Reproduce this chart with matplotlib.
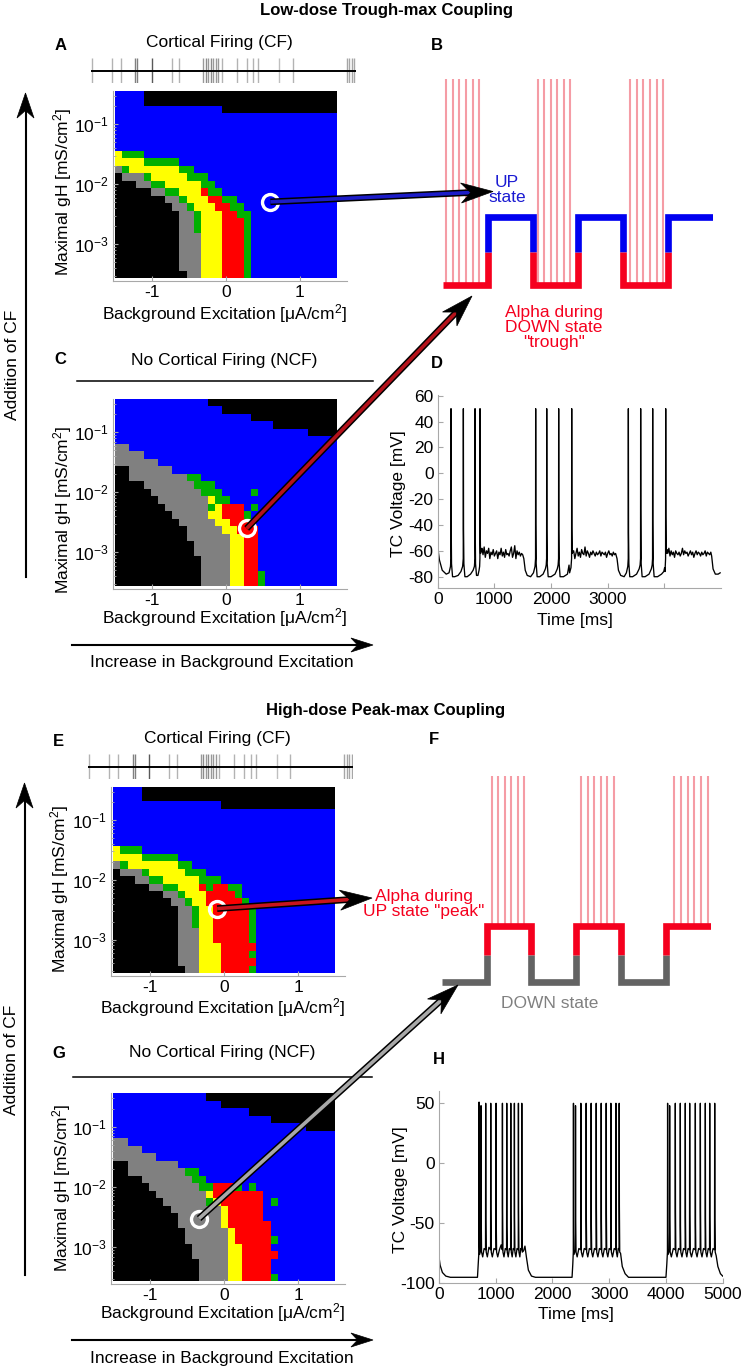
import re
import numpy as np
import matplotlib
matplotlib.use("Agg")
import matplotlib.pyplot as plt
import matplotlib.patheffects as pe
from matplotlib.colors import ListedColormap
from matplotlib.patches import Polygon
from matplotlib.ticker import LogLocator, NullFormatter

plt.rcParams['font.family'] = ['Liberation Sans', 'DejaVu Sans']
plt.rcParams['mathtext.fontset'] = 'custom'
plt.rcParams['mathtext.rm'] = 'Liberation Sans'
plt.rcParams['mathtext.it'] = 'Liberation Sans:italic'
plt.rcParams['mathtext.bf'] = 'Liberation Sans:bold'
plt.rcParams['axes.unicode_minus'] = False

W, H = 745, 1371
FS = 12.5

###########################################
# Parameter grid of the state maps
be_edges = np.linspace(-1.5, 1.5, 32)            # background excitation [uA/cm2]
gh_log_edges = np.linspace(-0.4375, -3.5625, 26)  # log10 maximal gH [mS/cm2], top row first

# K black, G gray, N green, Y yellow, R red, B blue (run-length coded rows, top to bottom)
state_letters = 'KGNYRB'
state_colors = ['#000000', '#808080', '#00b000', '#ffff00', '#ff0000', '#0000ff']

map_A = ['B4K27', 'B4K27', 'B15K16', 'B31', 'B31', 'B31', 'B31', 'B31',
         'Y1N3B27', 'Y4N5B22', 'G1N1Y7N2B20', 'K1G3N1Y5N3B18', 'K3G2N2Y5N2B17',
         'K5G2N2Y3R1N2B16', 'K7G2N1Y3R2N2B14', 'K8G2N1Y3R2N2B13', 'K9G2N1Y3R2N2B12',
         'K9G2N1Y3R3N1B12', 'K9G2N1Y3R3N1B12', 'K9G3Y3R3N1B12', 'K9G3Y3R3N1B12',
         'K9G3Y3R3N1B12', 'K9G3Y3R3N1B12', 'K9G3Y3R3N1B12', 'K10G2Y3R3N1B12']
map_C = ['B13K18', 'B15K16', 'B19K12', 'B22K9', 'B27K4', 'B31',
         'G2B29', 'G4B27', 'G6B25', 'K2G6B23',
         'K2G8N2B19', 'K4G7N3B17', 'K5G7N3B4N1B11', 'K6G7Y1N2B15',
         'K7G6N1Y1R3B1N1B11', 'K8G5Y2R3N1B12', 'K9G5Y2R3B12', 'K10G5Y2R3B11',
         'K10G6Y2R2B11', 'K11G5Y2R2B11', 'K11G5Y2R2B11', 'K12G4Y2R2B11',
         'K12G4Y2R2B11', 'K12G4Y2R2N1B10', 'K12G4Y2R2N1B10']
map_E = ['B4K27', 'B4K27', 'B15K16', 'B31', 'B31', 'B31', 'B31', 'B31',
         'Y1N3B27', 'Y4N5B22', 'G1N1Y7N2B20', 'K1G3N1Y5N3B18',
         'K3G2N2Y5N3B16', 'K5G2N2Y3R1N1R2N2B13', 'K7G2N1Y3R4N1B13',
         'K8G2N1Y2R5N1B12', 'K9G2N1Y2R5N1B11', 'K9G2N1Y2R5N1B11', 'K9G2N1Y2R5N1B11',
         'K9G3Y2R5N1B11', 'K9G3Y2R5N1B11', 'K9G3Y3R5B11', 'K9G3Y3R4N1B11',
         'K9G3Y3R5B11', 'K10G2Y3R4N1B11']
map_G = ['B13K18', 'B15K16', 'B19K12', 'B22K9', 'B27K4', 'B31',
         'G2B29', 'G4B27', 'G6B25', 'K2G7B22',
         'K2G8N2B19', 'K4G7N2B18', 'K5G7N2R3N1B1N1B11', 'K6G7Y1R7B10',
         'K7G6N1Y1R6B1N1B8', 'K8G7Y1R5B10', 'K9G6Y1R5B10', 'K9G6Y1R6B9',
         'K10G6Y1R5B9', 'K10G6Y1R5N1B8', 'K11G5Y2R4B9', 'K11G5Y2R5B8',
         'K12G4Y2R4B9', 'K12G4Y2R4B9', 'K12G4Y2R4N1B8']

# marked operating points (background excitation, gH)
point_A = (0.60, 5.1e-3)
point_C = (0.28, 2.5e-3)
point_E = (-0.095, 3.3e-3)
point_G = (-0.34, 3.0e-3)

# cortical spike train [ms]
cf_spike_t = [19, 396, 565, 835, 879, 1150, 1526, 1665, 2123, 2167, 2217, 2261, 2312,
              2362, 2406, 2469, 2751, 2940, 3065, 3160, 3555, 3807, 4824, 4874, 4918, 4969]
cf_spike_gray = [0.7, 0.7, 0.7, 0.5, 0.5, 0.35, 0.7, 0.7, 0.6, 0.55, 0.6, 0.55, 0.6,
                 0.6, 0.6, 0.7, 0.7, 0.7, 0.7, 0.7, 0.75, 0.7, 0.65, 0.65, 0.65, 0.65]

# schematic up/down sequence and alpha bursts
schem_edges = [0, 1, 2, 3, 4, 5, 6]
schem_B_states = ['down', 'up', 'down', 'up', 'down', 'up']
schem_F_states = ['down', 'up', 'down', 'up', 'down', 'up']
alpha_B_x = [0.07, 0.22, 0.36, 0.51, 0.66, 0.81, 2.10, 2.25, 2.39, 2.54, 2.69, 2.83,
             4.15, 4.30, 4.45, 4.59, 4.74, 4.89]
alpha_F_x = [1.12, 1.26, 1.41, 1.55, 1.70, 1.84, 3.11, 3.26, 3.41, 3.55, 3.70, 3.85,
             5.19, 5.34, 5.49, 5.64, 5.79, 5.94]

# TC voltage, low-dose trough-max coupling (t [ms], V [mV])
D_points = [(0, -57), (30, -67), (80, -75), (150, -78), (200, -77), (226, -72),
            (233, -66), (235, 50), (238, -39), (244, -70), (262, -80), (300, -80), (360, -79), (410, -76), (440, -72),
            (451, -66), (453, 50), (456, -43), (462, -70), (480, -80), (520, -80), (580, -78), (625, -75), (648, -72),
            (657, -66), (659, 50), (662, -43), (668, -70), (685, -79), (710, -79), (730, -75), (740, -72),
            (745, -66), (747, 50), (750, -43), (756, -62), (770, -60),
            (1520, -66), (1545, -75), (1580, -79), (1640, -80), (1690, -77), (1718, -72),
            (1727, -66), (1729, 50), (1732, -39), (1738, -70), (1755, -80), (1800, -80), (1860, -78), (1900, -74), (1915, -71),
            (1922, -66), (1924, 50), (1927, -43), (1933, -70), (1950, -80), (2000, -80), (2070, -78), (2110, -74), (2125, -71),
            (2133, -66), (2135, 50), (2138, -44), (2144, -70), (2160, -80), (2220, -80), (2290, -78), (2318, -71), (2328, -77), (2352, -73),
            (2363, -66), (2365, 50), (2368, -42), (2374, -62), (2390, -60),
            (3165, -66), (3190, -75), (3230, -79), (3290, -80), (3330, -77), (3355, -72),
            (3363, -66), (3365, 50), (3368, -46), (3374, -70), (3390, -80), (3440, -80), (3510, -78), (3555, -74), (3572, -71),
            (3580, -66), (3582, 50), (3585, -28), (3591, -70), (3608, -80), (3660, -80), (3730, -78), (3770, -74), (3785, -71),
            (3792, -66), (3794, 50), (3797, -37), (3803, -70), (3820, -80), (3880, -80), (3950, -78), (3990, -76), (4005, -73), (4012, -76),
            (4022, -66), (4024, 50), (4027, -33), (4033, -62), (4050, -59),
            (4835, -64), (4860, -74), (4900, -78), (4950, -78), (4985, -77)]
# UP-state fluctuations, sampled every 20 ms from the given start time
D_up_states = [
    (780, [-58, -63, -57, -65, -60, -62, -58, -66, -61, -63, -59, -64, -62, -60, -66, -61, -63, -58, -64,
           -61, -65, -59, -63, -62, -64, -60, -57, -65, -62, -56, -66, -60, -63, -61, -64, -62, -63]),
    (2400, [-60, -66, -62, -58, -64, -61, -65, -59, -62, -63, -57, -64, -60, -62, -65, -61, -63, -60, -62,
            -64, -61, -63, -62, -60, -64, -61, -62, -63, -61, -65, -62, -60, -63, -62, -64, -61, -63, -62]),
    (4060, [-62, -58, -64, -60, -63, -61, -65, -60, -62, -63, -61, -64, -62, -58, -63, -60, -62, -61, -64, -62,
            -60, -63, -61, -65, -62, -60, -63, -61, -62, -64, -61, -63, -62, -60, -64, -61, -62, -63, -61]),
]

# TC voltage, high-dose peak-max coupling (t [ms], V [mV])
H_points = [(0, -78), (20, -85), (60, -91), (120, -94), (200, -95), (678, -95), (692, -84),
            (703, -74), (706, 51), (709, -60), (715, -76),
            (738, -72), (741, 48), (744, -45), (750, -74), (770, -78), (795, -71),
            (820, -72), (823, 50), (826, -48), (832, -74), (852, -78), (880, -70),
            (909, -72), (912, 50), (915, -36), (921, -74), (940, -78), (970, -71),
            (1003, -72), (1006, 50), (1009, -50), (1015, -74), (1035, -78), (1065, -72), (1095, -68),
            (1115, -72), (1118, 50), (1121, -37), (1127, -74), (1145, -78), (1168, -71),
            (1191, -72), (1194, 50), (1197, -52), (1203, -74), (1220, -78), (1240, -71),
            (1262, -72), (1265, 50), (1268, -42), (1274, -74), (1290, -78), (1308, -71),
            (1326, -72), (1329, 50), (1332, -45), (1338, -74), (1355, -78), (1375, -71),
            (1397, -72), (1400, 50), (1403, -40), (1409, -74), (1425, -78), (1440, -71),
            (1456, -72), (1459, 50), (1462, -33), (1468, -74), (1490, -73), (1515, -69),
            (1540, -78), (1575, -89), (1630, -94), (1700, -95), (2345, -95), (2358, -84),
            (2367, -74), (2370, 50), (2373, -58), (2379, -76),
            (2403, -72), (2406, 48), (2409, -48), (2415, -74), (2435, -78), (2465, -71),
            (2497, -72), (2500, 50), (2503, -33), (2509, -74), (2530, -78), (2560, -71),
            (2591, -72), (2594, 50), (2597, -47), (2603, -74), (2622, -78), (2650, -71),
            (2679, -72), (2682, 50), (2685, -52), (2691, -74), (2710, -78), (2740, -71),
            (2768, -72), (2771, 50), (2774, -37), (2780, -74), (2800, -78), (2828, -71),
            (2856, -72), (2859, 50), (2862, -48), (2868, -74), (2888, -78), (2915, -71),
            (2944, -72), (2947, 50), (2950, -42), (2956, -74), (2975, -78), (3000, -71),
            (3026, -72), (3029, 50), (3032, -45), (3038, -74), (3058, -78), (3088, -71),
            (3115, -72), (3118, 50), (3121, -40), (3127, -74), (3142, -78), (3160, -71),
            (3173, -72), (3176, 50), (3179, -35), (3185, -74), (3200, -75), (3230, -86),
            (3280, -92), (3340, -95), (4000, -95), (4015, -84),
            (4026, -74), (4029, 50), (4032, -58), (4038, -76),
            (4062, -72), (4065, 48), (4068, -46), (4074, -74), (4095, -78), (4130, -71),
            (4162, -72), (4165, 50), (4168, -40), (4174, -74), (4195, -78), (4222, -71),
            (4250, -72), (4253, 50), (4256, -52), (4262, -74), (4282, -78), (4310, -71),
            (4338, -72), (4341, 50), (4344, -45), (4350, -74), (4368, -78), (4390, -71),
            (4415, -72), (4418, 50), (4421, -42), (4427, -74), (4450, -78), (4485, -71),
            (4515, -72), (4518, 50), (4521, -50), (4527, -74), (4548, -78), (4575, -71),
            (4603, -72), (4606, 50), (4609, -38), (4615, -74), (4635, -78), (4662, -71),
            (4691, -72), (4694, 50), (4697, -46), (4703, -74), (4722, -78), (4745, -71),
            (4768, -72), (4771, 50), (4774, -44), (4780, -74), (4800, -78), (4830, -71),
            (4856, -72), (4859, 50), (4862, -47), (4868, -74), (4885, -77), (4915, -86),
            (4960, -92), (5000, -94)]

RED = '#f5001e'
BLUE = '#0000f0'
PINK = '#f59ca5'
SPINE = '#a8a8a8'


###########################################
def decode(row):
    cells = []
    for letter, n in re.findall(r'([KGNYRB])(\d+)', row):
        cells += [state_letters.index(letter)] * int(n)
    assert len(cells) == 31, row
    return cells


def build_trace(points, sampled=()):
    pts = list(points)
    for t0, vals in sampled:
        pts += [(t0 + 20 * k, v) for k, v in enumerate(vals)]
    pts.sort()
    t, v = zip(*pts)
    return np.array(t), np.array(v)


fig = plt.figure(figsize=(W / 100, H / 100), dpi=100)


def px_axes(left, top, right, bottom, **kw):
    return fig.add_axes([left / W, 1 - bottom / H, (right - left) / W, (bottom - top) / H], **kw)


def style_axes(ax):
    for s in ['top', 'right']:
        ax.spines[s].set_visible(False)
    for s in ['left', 'bottom']:
        ax.spines[s].set_color(SPINE)
        ax.spines[s].set_linewidth(0.8)
    ax.tick_params(which='both', direction='in', color=SPINE, labelsize=FS, pad=3)
    ax.tick_params(which='major', length=3.5)
    ax.tick_params(which='minor', length=1.8)


def place_labels(ax, xlabel, ylabel, xlab_xy, ylab_xy):
    ax.set_xlabel(xlabel, fontsize=FS)
    ax.set_ylabel(ylabel, fontsize=FS)
    ax.xaxis.label.set_va('center')
    ax.yaxis.label.set_va('center')
    ax.xaxis.set_label_coords(*xlab_xy)
    ax.yaxis.set_label_coords(*ylab_xy)


state_cmap = ListedColormap(state_colors)


def state_map(rows, box, point, xlab_xy, ylab_xy):
    ax = px_axes(*box)
    grid = np.array([decode(r) for r in rows])
    ax.pcolormesh(be_edges, 10.0 ** gh_log_edges, grid, cmap=state_cmap, vmin=-0.5, vmax=5.5)
    ax.set_yscale('log')
    ax.set_xlim(-1.53, 1.63)
    ax.set_ylim(10 ** -3.61, 10 ** -0.4375)
    ax.set_xticks([-1, 0, 1])
    ax.set_xticklabels(['-1', '0', '1'])
    ax.set_yticks([1e-3, 1e-2, 1e-1])
    ax.set_yticklabels([r'$10^{-3}$', r'$10^{-2}$', r'$10^{-1}$'])
    ax.yaxis.set_minor_locator(LogLocator(base=10, subs=np.arange(2, 10)))
    ax.yaxis.set_minor_formatter(NullFormatter())
    style_axes(ax)
    place_labels(ax, r'Background Excitation [μA/cm$^2$]', r'Maximal gH [mS/cm$^2$]', xlab_xy, ylab_xy)
    ax.plot(*point, marker='o', ms=11.5, mfc='none', mec='white', mew=2.4)
    return ax


def raster(box):
    ax = px_axes(*box)
    ax.set_xlim(0, 5000)
    ax.set_ylim(0, 1)
    ax.axis('off')
    ax.vlines(cf_spike_t, 0, 1, colors=[str(g) for g in cf_spike_gray], lw=1.0)
    ax.axhline(0.5, color='black', lw=1.4)
    return ax


def draw_schematic(box, states, up_color, down_color, mid, alpha_x, alpha_lo, alpha_hi, ylim):
    ax = px_axes(*box)
    ax.set_xlim(0, 6)
    ax.set_ylim(*ylim)
    ax.axis('off')
    level = {'down': 0.0, 'up': 1.0}
    ax.vlines(alpha_x, alpha_lo, alpha_hi, colors=PINK, lw=1.5, zorder=1)
    for i, s in enumerate(states):
        x0, x1 = schem_edges[i], schem_edges[i + 1]
        y = level[s]
        xs, ys = [], []
        if i > 0:
            xs.append(x0)
            ys.append(mid)
        xs += [x0, x1]
        ys += [y, y]
        if i < len(states) - 1:
            xs.append(x1)
            ys.append(mid)
        ax.plot(xs, ys, color=up_color if s == 'up' else down_color, lw=4.8,
                solid_capstyle='butt', solid_joinstyle='miter', zorder=2)
    return ax


def trace_axes(box, t, v, ylim, yticks, xticks, xticklabels, xlab_xy, ylab_xy):
    ax = px_axes(*box)
    ax.plot(t, v, color='black', lw=0.95)
    ax.set_xlim(0, 5000)
    ax.set_ylim(*ylim)
    ax.set_yticks(yticks)
    ax.set_yticklabels([str(y) for y in yticks])
    ax.set_xticks(xticks)
    ax.set_xticklabels(xticklabels)
    style_axes(ax)
    place_labels(ax, 'Time [ms]', 'TC Voltage [mV]', xlab_xy, ylab_xy)
    return ax


###########################################
# State maps
ax_A = state_map(map_A, (112.8, 90.55, 346.6, 280.9), point_A, (0.476, -0.169), (-0.217, 0.467))
ax_C = state_map(map_C, (112.8, 398.6, 346.6, 588.9), point_C, (0.476, -0.153), (-0.217, 0.415))
ax_E = state_map(map_E, (111.1, 786.5, 344.6, 976.0), point_E, (0.477, -0.169), (-0.219, 0.459))
ax_G = state_map(map_G, (111.1, 1093.0, 344.6, 1284.0), point_G, (0.477, -0.152), (-0.212, 0.503))

raster((90.7, 58.3, 356.0, 83.3))
raster((88.3, 754.0, 353.3, 779.3))

# Schematics of up/down states with alpha bursts
ax_B = draw_schematic((443, 68.4, 713.3, 305.3), schem_B_states, BLUE, RED, 0.49,
                      alpha_B_x, 0, 3.04, (-0.3, 3.2))
ax_F = draw_schematic((441.7, 764.5, 710.5, 998.4), schem_F_states, RED, '#636363', 0.48,
                      alpha_F_x, 1, 3.7, (-0.3, 3.9))

# Voltage traces
tD, vD = build_trace(D_points, D_up_states)
ax_D = trace_axes((437.7, 395.1, 721.0, 587.7), tD, vD, (-88.5, 60.5),
                  [-80, -60, -40, -20, 0, 20, 40, 60], [0, 1000, 2000, 3000, 4000],
                  ['0', '1000', '2000', '3000', ''], (0.483, -0.168), (-0.14, 0.486))
tH, vH = build_trace(H_points)
ax_H = trace_axes((439.0, 1091.3, 722.7, 1283.3), tH, vH, (-100, 60),
                  [-100, -50, 0, 50], [0, 1000, 2000, 3000, 4000, 5000],
                  ['0', '1000', '2000', '3000', '4000', '5000'], (0.481, -0.165), (-0.137, 0.486))

###########################################
# Overlay in pixel coordinates: texts, arrows, separators
ov = fig.add_axes([0, 0, 1, 1], zorder=10)
ov.set_xlim(0, W)
ov.set_ylim(H, 0)
ov.axis('off')


def to_px(ax, x, y):
    return ov.transData.inverted().transform(ax.transData.transform((x, y)))


def head(p0, p1, length, width):
    p0 = np.asarray(p0, float)
    p1 = np.asarray(p1, float)
    d = (p1 - p0) / np.hypot(*(p1 - p0))
    n = np.array([-d[1], d[0]])
    base = p1 - d * length
    notch = p1 - d * length * 0.7
    ov.add_patch(Polygon([p1, base + n * width / 2, notch, base - n * width / 2],
                         closed=True, fc='black', ec='black', lw=0.5, zorder=21))
    return notch


def fat_arrow(p0, p1, fill):
    notch = head(p0, p1, 32, 20)
    ov.plot([p0[0], notch[0]], [p0[1], notch[1]], color=fill, lw=2.6, solid_capstyle='butt',
            path_effects=[pe.Stroke(linewidth=4.8, foreground='black'), pe.Normal()], zorder=20)


def thin_arrow(p0, p1, length, width):
    notch = head(p0, p1, length, width)
    ov.plot([p0[0], notch[0]], [p0[1], notch[1]], color='black', lw=1.5, zorder=20)


fat_arrow(to_px(ax_A, *point_A), (493, 191.5), '#1c1cc8')
fat_arrow(to_px(ax_C, *point_C), (472, 296), '#b5121b')
fat_arrow(to_px(ax_E, *point_E), (372, 898), '#c8141e')
fat_arrow(to_px(ax_G, *point_G), (458, 985), '#a8a8a8')

# Addition of CF / Increase in background excitation
thin_arrow((25.5, 577), (25.5, 93), 25, 17)
thin_arrow((24.5, 1275), (24.5, 783), 25, 17)
thin_arrow((72, 645), (373, 645), 22, 14)
thin_arrow((72, 1340), (373, 1340), 22, 14)
ov.text(13, 365, 'Addition of CF', rotation=90, ha='center', va='center', fontsize=FS)
ov.text(12, 1060, 'Addition of CF', rotation=90, ha='center', va='center', fontsize=FS)
ov.text(222, 663, 'Increase in Background Excitation', ha='center', va='center', fontsize=FS)
ov.text(222, 1358, 'Increase in Background Excitation', ha='center', va='center', fontsize=FS)

# NCF separators
ov.plot([77, 373], [381, 381], color='black', lw=1.1)
ov.plot([73, 372], [1077, 1077], color='black', lw=1.1)

# Titles and panel texts
ov.text(386, 10, 'Low-dose Trough-max Coupling', ha='center', va='center', fontsize=12, fontweight='bold')
ov.text(386, 710, 'High-dose Peak-max Coupling', ha='center', va='center', fontsize=12, fontweight='bold')
ov.text(219, 43, 'Cortical Firing (CF)', ha='center', va='center', fontsize=FS)
ov.text(217.5, 738, 'Cortical Firing (CF)', ha='center', va='center', fontsize=FS)
ov.text(224, 360, 'No Cortical Firing (NCF)', ha='center', va='center', fontsize=FS)
ov.text(222, 1053, 'No Cortical Firing (NCF)', ha='center', va='center', fontsize=FS)
for letter, x, y in [('A', 61, 45), ('B', 437, 46), ('C', 60, 360), ('D', 437, 363),
                     ('E', 58, 742), ('F', 434, 740), ('G', 59, 1053), ('H', 439, 1059)]:
    ov.text(x, y, letter, ha='center', va='center', fontsize=12, fontweight='bold')

ov.text(507, 190, 'UP\nstate', ha='center', va='center', fontsize=FS, color='#1a1ad2', linespacing=1.05)
ov.text(554, 327.5, 'Alpha during\nDOWN state\n"trough"', ha='center', va='center',
        fontsize=FS, color=RED, linespacing=1.02)
ov.text(424, 904, 'Alpha during\nUP state "peak"', ha='center', va='center',
        fontsize=FS, color=RED, linespacing=1.05)
ov.text(550, 1003, 'DOWN state', ha='center', va='center', fontsize=FS, color='#808080')

fig.savefig('out.png', dpi=100)
